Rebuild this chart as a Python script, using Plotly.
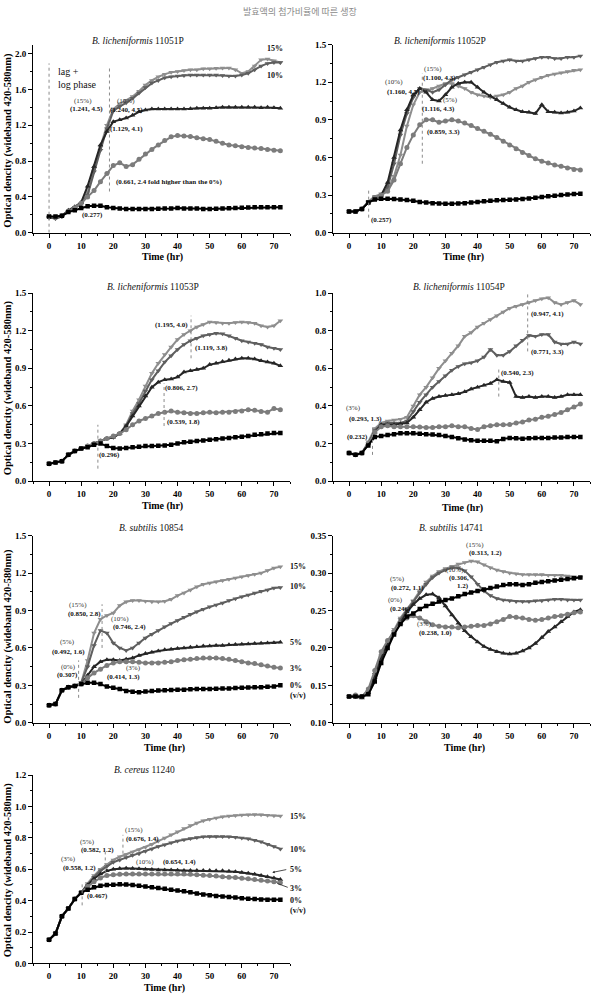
import plotly.graph_objects as go

W, H = 598, 1004
SERIF = "Liberation Serif"

# ---------------- data (time in hr, OD values) ----------------
TIME = list(range(0, 73, 2))
LEVELS = ["15%", "10%", "5%", "3%", "0%"]

# B. licheniformis 11051P
P1_0 = [0.18, 0.18, 0.19, 0.23, 0.25, 0.277, 0.295, 0.30, 0.30, 0.285, 0.275, 0.27, 0.265, 0.265, 0.265, 0.265, 0.265, 0.268, 0.27,
        0.27, 0.275, 0.27, 0.27, 0.27, 0.265, 0.265, 0.268, 0.27, 0.272, 0.275, 0.28, 0.282, 0.285, 0.285, 0.285, 0.285, 0.285]
P1_3 = [0.18, 0.17, 0.19, 0.24, 0.28, 0.33, 0.40, 0.47, 0.57, 0.66, 0.75, 0.78, 0.74, 0.76, 0.82, 0.88, 0.93, 0.98, 1.03,
        1.07, 1.085, 1.08, 1.075, 1.06, 1.05, 1.04, 1.02, 1.0, 0.98, 0.97, 0.96, 0.95, 0.945, 0.94, 0.93, 0.92, 0.915]
P1_5 = [0.18, 0.17, 0.19, 0.25, 0.29, 0.34, 0.52, 0.74, 0.98, 1.13, 1.24, 1.26, 1.28, 1.31, 1.35, 1.37, 1.38, 1.38, 1.38,
        1.38, 1.38, 1.38, 1.385, 1.39, 1.39, 1.39, 1.395, 1.4, 1.4, 1.4, 1.4, 1.4, 1.4, 1.395, 1.4, 1.395, 1.39]
P1_10 = [0.17, 0.16, 0.18, 0.24, 0.28, 0.32, 0.42, 0.68, 0.92, 1.16, 1.36, 1.41, 1.45, 1.5, 1.56, 1.62, 1.67, 1.7, 1.73,
         1.74, 1.75, 1.755, 1.76, 1.76, 1.76, 1.76, 1.76, 1.755, 1.75, 1.75, 1.76, 1.78, 1.82, 1.86, 1.89, 1.9, 1.9]
P1_15 = [0.17, 0.16, 0.18, 0.24, 0.28, 0.32, 0.45, 0.72, 0.96, 1.2, 1.38, 1.44, 1.48, 1.52, 1.58, 1.65, 1.7, 1.74, 1.77,
         1.79, 1.8, 1.81, 1.82, 1.82, 1.83, 1.83, 1.835, 1.84, 1.84, 1.82, 1.78, 1.8, 1.86, 1.93, 1.94, 1.92, 1.9]

# B. licheniformis 11052P
P2_0 = [0.17, 0.17, 0.19, 0.24, 0.265, 0.27, 0.27, 0.268, 0.265, 0.26, 0.255, 0.245, 0.24, 0.235, 0.232, 0.23, 0.23, 0.232, 0.235,
        0.24, 0.245, 0.25, 0.255, 0.258, 0.26, 0.262, 0.265, 0.268, 0.272, 0.278, 0.284, 0.29, 0.295, 0.3, 0.305, 0.308, 0.31]
P2_3 = [0.17, 0.17, 0.19, 0.24, 0.28, 0.30, 0.33, 0.42, 0.55, 0.68, 0.78, 0.86, 0.9, 0.9, 0.88, 0.89, 0.9, 0.89, 0.875,
        0.855, 0.83, 0.81, 0.785, 0.76, 0.73, 0.70, 0.67, 0.64, 0.615, 0.59, 0.57, 0.555, 0.54, 0.53, 0.515, 0.505, 0.5]
P2_5 = [0.17, 0.17, 0.19, 0.24, 0.27, 0.3, 0.4, 0.6, 0.82, 0.98, 1.1, 1.15, 1.12, 1.06, 1.05, 1.1, 1.16, 1.19, 1.2,
        1.2, 1.16, 1.12, 1.09, 1.06, 1.03, 1.0, 0.98, 0.965, 0.96, 0.95, 1.02, 0.965, 0.96, 0.955, 0.96, 0.97, 0.995]
P2_10 = [0.17, 0.17, 0.19, 0.24, 0.28, 0.3, 0.36, 0.55, 0.78, 0.95, 1.08, 1.15, 1.14, 1.12, 1.14, 1.18, 1.22, 1.24, 1.26,
         1.28, 1.3, 1.32, 1.34, 1.36, 1.37, 1.38, 1.37, 1.37, 1.38, 1.39, 1.4, 1.4, 1.39, 1.39, 1.4, 1.4, 1.41]
P2_15 = [0.17, 0.17, 0.19, 0.25, 0.29, 0.31, 0.34, 0.45, 0.62, 0.85, 1.02, 1.12, 1.13, 1.15, 1.17, 1.19, 1.19, 1.17, 1.15,
         1.12, 1.1, 1.09, 1.08, 1.09, 1.1, 1.12, 1.15, 1.17, 1.2, 1.22, 1.24, 1.255, 1.265, 1.275, 1.285, 1.295, 1.3]

# B. licheniformis 11053P
P3_0 = [0.14, 0.15, 0.16, 0.21, 0.24, 0.26, 0.27, 0.29, 0.3, 0.28, 0.265, 0.26, 0.265, 0.27, 0.275, 0.28, 0.28, 0.283, 0.285,
        0.29, 0.3, 0.31, 0.315, 0.32, 0.325, 0.33, 0.335, 0.34, 0.345, 0.35, 0.355, 0.36, 0.37, 0.375, 0.38, 0.385, 0.385]
P3_3 = [0.14, 0.15, 0.16, 0.21, 0.24, 0.26, 0.28, 0.3, 0.32, 0.34, 0.36, 0.38, 0.41, 0.45, 0.48, 0.5, 0.52, 0.54, 0.55,
        0.56, 0.55, 0.545, 0.54, 0.54, 0.545, 0.55, 0.545, 0.55, 0.55, 0.555, 0.56, 0.57, 0.565, 0.555, 0.55, 0.58, 0.57]
P3_5 = [0.14, 0.15, 0.16, 0.21, 0.24, 0.26, 0.28, 0.3, 0.32, 0.34, 0.35, 0.38, 0.44, 0.52, 0.6, 0.68, 0.75, 0.79, 0.81,
        0.815, 0.83, 0.87, 0.88, 0.89, 0.9, 0.93, 0.94, 0.955, 0.965, 0.975, 0.98, 0.98, 0.975, 0.96, 0.95, 0.94, 0.92]
P3_10 = [0.14, 0.15, 0.16, 0.21, 0.24, 0.26, 0.28, 0.3, 0.32, 0.34, 0.35, 0.38, 0.44, 0.54, 0.62, 0.72, 0.81, 0.88, 0.95,
         1.0, 1.05, 1.09, 1.12, 1.14, 1.16, 1.17, 1.18, 1.175, 1.16, 1.14, 1.12, 1.11, 1.1, 1.09, 1.07, 1.06, 1.05]
P3_15 = [0.14, 0.15, 0.16, 0.21, 0.24, 0.26, 0.28, 0.3, 0.32, 0.34, 0.35, 0.38, 0.45, 0.56, 0.65, 0.76, 0.86, 0.94, 1.01,
         1.07, 1.13, 1.17, 1.2, 1.23, 1.25, 1.27, 1.265, 1.26, 1.26, 1.265, 1.27, 1.265, 1.26, 1.24, 1.23, 1.24, 1.28]

# B. licheniformis 11054P
P4_0 = [0.15, 0.14, 0.15, 0.19, 0.235, 0.24, 0.245, 0.25, 0.255, 0.255, 0.255, 0.252, 0.25, 0.248, 0.245, 0.24, 0.235, 0.228, 0.222,
        0.218, 0.215, 0.215, 0.215, 0.213, 0.225, 0.23, 0.228, 0.226, 0.228, 0.23, 0.23, 0.23, 0.232, 0.232, 0.235, 0.235, 0.235]
P4_3 = [0.15, 0.14, 0.15, 0.2, 0.26, 0.29, 0.295, 0.29, 0.29, 0.29, 0.29, 0.288, 0.285, 0.285, 0.29, 0.29, 0.295, 0.29, 0.29,
        0.28, 0.275, 0.29, 0.295, 0.3, 0.3, 0.302, 0.31, 0.315, 0.325, 0.33, 0.34, 0.345, 0.355, 0.365, 0.38, 0.395, 0.41]
P4_5 = [0.15, 0.14, 0.15, 0.2, 0.26, 0.3, 0.3, 0.3, 0.305, 0.31, 0.34, 0.38, 0.42, 0.44, 0.45, 0.455, 0.46, 0.465, 0.475,
        0.49, 0.5, 0.51, 0.52, 0.54, 0.53, 0.525, 0.45, 0.445, 0.45, 0.445, 0.45, 0.45, 0.445, 0.45, 0.46, 0.46, 0.46]
P4_10 = [0.15, 0.14, 0.15, 0.2, 0.27, 0.3, 0.31, 0.31, 0.31, 0.32, 0.37, 0.42, 0.46, 0.5, 0.53, 0.56, 0.59, 0.61, 0.625,
         0.63, 0.64, 0.66, 0.7, 0.67, 0.67, 0.69, 0.72, 0.75, 0.775, 0.77, 0.78, 0.78, 0.74, 0.73, 0.73, 0.74, 0.73]
P4_15 = [0.15, 0.14, 0.15, 0.21, 0.28, 0.31, 0.32, 0.325, 0.33, 0.34, 0.4, 0.46, 0.5, 0.55, 0.6, 0.64, 0.68, 0.72, 0.77,
         0.79, 0.82, 0.84, 0.86, 0.88, 0.9, 0.92, 0.93, 0.94, 0.95, 0.96, 0.97, 0.975, 0.95, 0.94, 0.95, 0.96, 0.94]

# B. subtilis 10854
P5_0 = [0.14, 0.15, 0.26, 0.285, 0.295, 0.31, 0.32, 0.32, 0.31, 0.29, 0.28, 0.27, 0.255, 0.248, 0.245, 0.25, 0.255, 0.258, 0.26,
        0.262, 0.265, 0.265, 0.268, 0.27, 0.27, 0.27, 0.272, 0.275, 0.275, 0.278, 0.28, 0.282, 0.285, 0.285, 0.288, 0.29, 0.3]
P5_3 = [0.14, 0.15, 0.26, 0.285, 0.295, 0.31, 0.36, 0.4, 0.43, 0.46, 0.48, 0.49, 0.49, 0.49, 0.485, 0.48, 0.48, 0.48, 0.485,
        0.49, 0.5, 0.505, 0.51, 0.515, 0.52, 0.52, 0.52, 0.515, 0.51, 0.5, 0.49, 0.48, 0.475, 0.465, 0.455, 0.445, 0.44]
P5_5 = [0.14, 0.15, 0.26, 0.285, 0.295, 0.31, 0.38, 0.45, 0.49, 0.505, 0.505, 0.5, 0.51, 0.52, 0.54, 0.555, 0.565, 0.575, 0.585,
        0.59, 0.595, 0.6, 0.605, 0.61, 0.615, 0.615, 0.62, 0.62, 0.625, 0.628, 0.63, 0.632, 0.635, 0.638, 0.64, 0.642, 0.645]
P5_10 = [0.14, 0.15, 0.26, 0.285, 0.295, 0.32, 0.45, 0.62, 0.74, 0.72, 0.64, 0.6, 0.58, 0.6, 0.64, 0.68, 0.71, 0.74, 0.77,
         0.795, 0.82, 0.845, 0.87, 0.89, 0.91, 0.93, 0.945, 0.96, 0.98, 0.995, 1.01, 1.025, 1.04, 1.055, 1.065, 1.08, 1.085]
P5_15 = [0.14, 0.15, 0.26, 0.285, 0.295, 0.32, 0.5, 0.72, 0.83, 0.86, 0.88, 0.94, 0.97, 0.98, 0.98, 0.975, 0.97, 0.97, 0.975,
         0.99, 1.02, 1.04, 1.065, 1.09, 1.11, 1.12, 1.13, 1.14, 1.15, 1.16, 1.17, 1.18, 1.19, 1.2, 1.22, 1.24, 1.25]

# B. subtilis 14741
P6_0 = [0.135, 0.135, 0.135, 0.138, 0.155, 0.18, 0.2, 0.218, 0.232, 0.242, 0.246, 0.252, 0.256, 0.259, 0.262, 0.264, 0.266, 0.269, 0.272,
        0.274, 0.276, 0.278, 0.28, 0.282, 0.284, 0.285, 0.285, 0.284, 0.285, 0.287, 0.288, 0.289, 0.29, 0.291, 0.292, 0.293, 0.294]
P6_3 = [0.135, 0.137, 0.135, 0.145, 0.17, 0.195, 0.21, 0.222, 0.233, 0.24, 0.243, 0.24, 0.235, 0.231, 0.229, 0.228, 0.228, 0.227, 0.228,
        0.229, 0.23, 0.23, 0.232, 0.235, 0.238, 0.242, 0.241, 0.24, 0.238, 0.237, 0.238, 0.24, 0.242, 0.243, 0.245, 0.247, 0.248]
P6_5 = [0.135, 0.135, 0.133, 0.14, 0.16, 0.185, 0.205, 0.22, 0.233, 0.248, 0.258, 0.266, 0.271, 0.272, 0.267, 0.256, 0.244, 0.233, 0.223,
        0.215, 0.208, 0.202, 0.198, 0.195, 0.193, 0.192, 0.193, 0.196, 0.2, 0.206, 0.214, 0.222, 0.228, 0.235, 0.242, 0.248, 0.251]
P6_10 = [0.135, 0.135, 0.135, 0.142, 0.165, 0.188, 0.205, 0.222, 0.238, 0.25, 0.262, 0.274, 0.285, 0.294, 0.3, 0.304, 0.307, 0.307, 0.303,
         0.295, 0.285, 0.276, 0.27, 0.266, 0.264, 0.263, 0.262, 0.262, 0.262, 0.263, 0.263, 0.264, 0.265, 0.265, 0.264, 0.264, 0.264]
P6_15 = [0.135, 0.136, 0.135, 0.142, 0.165, 0.19, 0.208, 0.225, 0.24, 0.252, 0.263, 0.276, 0.288, 0.296, 0.302, 0.306, 0.309, 0.312, 0.314,
         0.316, 0.315, 0.311, 0.307, 0.304, 0.302, 0.3, 0.299, 0.298, 0.298, 0.298, 0.298, 0.297, 0.297, 0.297, 0.296, 0.295, 0.294]

# B. cereus 11240
P7_0 = [0.15, 0.19, 0.3, 0.35, 0.41, 0.45, 0.47, 0.485, 0.495, 0.5, 0.502, 0.505, 0.503, 0.5, 0.495, 0.49, 0.485, 0.48, 0.476,
        0.47, 0.465, 0.46, 0.453, 0.445, 0.44, 0.435, 0.43, 0.427, 0.424, 0.42, 0.415, 0.412, 0.41, 0.408, 0.406, 0.405, 0.405]
P7_3 = [0.15, 0.19, 0.3, 0.35, 0.41, 0.45, 0.49, 0.52, 0.545, 0.56, 0.565, 0.568, 0.57, 0.57, 0.57, 0.57, 0.57, 0.57, 0.57,
        0.57, 0.57, 0.57, 0.568, 0.566, 0.562, 0.56, 0.557, 0.553, 0.55, 0.547, 0.543, 0.54, 0.535, 0.53, 0.525, 0.52, 0.515]
P7_5 = [0.15, 0.19, 0.3, 0.35, 0.41, 0.45, 0.5, 0.54, 0.57, 0.59, 0.6, 0.605, 0.607, 0.605, 0.603, 0.6, 0.598, 0.596, 0.595,
        0.595, 0.594, 0.593, 0.592, 0.592, 0.592, 0.592, 0.591, 0.59, 0.588, 0.584, 0.58, 0.575, 0.568, 0.56, 0.552, 0.545, 0.535]
P7_10 = [0.15, 0.19, 0.3, 0.35, 0.41, 0.45, 0.5, 0.55, 0.59, 0.62, 0.645, 0.66, 0.675, 0.69, 0.7, 0.715, 0.73, 0.745, 0.757,
         0.77, 0.78, 0.788, 0.796, 0.803, 0.808, 0.81, 0.81, 0.81, 0.808, 0.804, 0.8, 0.795, 0.785, 0.775, 0.76, 0.745, 0.73]
P7_15 = [0.15, 0.19, 0.3, 0.35, 0.41, 0.45, 0.51, 0.56, 0.6, 0.63, 0.66, 0.68, 0.695, 0.71, 0.725, 0.74, 0.76, 0.78, 0.8,
         0.82, 0.84, 0.86, 0.88, 0.895, 0.91, 0.92, 0.928, 0.935, 0.94, 0.943, 0.946, 0.948, 0.95, 0.948, 0.945, 0.942, 0.94]

TITLES = ["<i>B. licheniformis</i> 11051P", "<i>B. licheniformis</i> 11052P",
          "<i>B. licheniformis</i> 11053P", "<i>B. licheniformis</i> 11054P",
          "<i>B. subtilis</i> 10854", "<i>B. subtilis</i> 14741", "<i>B. cereus</i> 11240"]

PANEL_SERIES = [
    [P1_15, P1_10, P1_5, P1_3, P1_0],
    [P2_15, P2_10, P2_5, P2_3, P2_0],
    [P3_15, P3_10, P3_5, P3_3, P3_0],
    [P4_15, P4_10, P4_5, P4_3, P4_0],
    [P5_15, P5_10, P5_5, P5_3, P5_0],
    [P6_15, P6_10, P6_5, P6_3, P6_0],
    [P7_15, P7_10, P7_5, P7_3, P7_0],
]

# ---------------- styling / layout ----------------
STYLE = {
    "15%": dict(color="#8e8e8e", symbol="triangle-down", size=5),
    "10%": dict(color="#5f5f5f", symbol="triangle-down", size=5),
    "5%": dict(color="#262626", symbol="triangle-up", size=5),
    "3%": dict(color="#7c7c7c", symbol="circle", size=5),
    "0%": dict(color="#000000", symbol="square", size=4.5),
}

def fx(px):
    return px / W

def fy(py):
    return 1 - py / H

LEFT = [fx(33), fx(290)]
RIGHT = [fx(333), fx(590)]
ROWS = [[fy(230), fy(40)], [fy(481), fy(291)], [fy(725), fy(536)], [fy(968), fy(778)]]
DOMAINS = [(LEFT, ROWS[0]), (RIGHT, ROWS[0]), (LEFT, ROWS[1]), (RIGHT, ROWS[1]),
           (LEFT, ROWS[2]), (RIGHT, ROWS[2]), (LEFT, ROWS[3])]
YRANGES = [[0, 2.1], [0, 1.5], [0, 1.5], [0, 1.0], [0, 1.5], [0.10, 0.35], [0, 1.2]]
YDTICK = [0.4, 0.3, 0.3, 0.2, 0.3, 0.05, 0.2]
YFMT = [".1f", ".1f", ".1f", ".1f", ".1f", ".2f", ".1f"]
TITLE_POS = [(138, 36), (440, 36), (153, 285), (459, 285), (151, 528), (451, 528), (144, 773)]
XTITLE_POS = [(162, 255), (463, 255), (162, 506), (462, 508), (164, 750), (464, 750), (164, 993)]
YTITLE_Y = [137, 387, 638, 874]

fig = go.Figure()
annotations = []
shapes = []

def axname(i):
    return ("x" if i == 1 else f"x{i}"), ("y" if i == 1 else f"y{i}")

for i, series in enumerate(PANEL_SERIES, start=1):
    xn, yn = axname(i)
    for lvl, vals in zip(LEVELS, series):
        st = STYLE[lvl]
        fig.add_trace(go.Scatter(
            x=TIME, y=vals, mode="lines+markers", xaxis=xn, yaxis=yn,
            line=dict(color=st["color"], width=2),
            marker=dict(symbol=st["symbol"], size=st["size"], color=st["color"],
                        line=dict(width=0)),
            showlegend=False, hoverinfo="skip"))
    xd, yd = DOMAINS[i - 1]
    tickfont = dict(family=SERIF, size=9, color="black", weight="bold")
    xa = dict(domain=xd, range=[-5, 75], anchor=yn, tickmode="linear", tick0=0, dtick=10,
              ticks="outside", ticklen=4, tickwidth=1, tickcolor="black",
              showline=True, linecolor="black", linewidth=1, showgrid=False, zeroline=False,
              tickfont=tickfont,
              minor=dict(ticks="outside", ticklen=2, tick0=0, dtick=5, tickcolor="black", showgrid=False))
    ya = dict(domain=yd, range=YRANGES[i - 1], anchor=xn, tickmode="linear",
              tick0=YRANGES[i - 1][0], dtick=YDTICK[i - 1], tickformat=YFMT[i - 1],
              ticks="outside", ticklen=4, tickwidth=1, tickcolor="black",
              showline=True, linecolor="black", linewidth=1, showgrid=False, zeroline=False,
              tickfont=tickfont,
              minor=dict(ticks="outside", ticklen=2, tick0=YRANGES[i - 1][0], dtick=YDTICK[i - 1] / 2,
                         tickcolor="black", showgrid=False))
    fig.update_layout(**{("xaxis" if i == 1 else f"xaxis{i}"): xa,
                         ("yaxis" if i == 1 else f"yaxis{i}"): ya})
    tx, ty = TITLE_POS[i - 1]
    annotations.append(dict(x=fx(tx), y=fy(ty), xref="paper", yref="paper", text=TITLES[i - 1],
                            showarrow=False, font=dict(family=SERIF, size=9.5, color="#111"),
                            xanchor="center", yanchor="middle"))
    xx, xy = XTITLE_POS[i - 1]
    annotations.append(dict(x=fx(xx), y=fy(xy), xref="paper", yref="paper", text="Time (hr)",
                            showarrow=False, font=dict(family=SERIF, size=10, color="black", weight="bold"),
                            xanchor="center", yanchor="middle"))

for yc in YTITLE_Y:
    annotations.append(dict(x=fx(8), y=fy(yc), xref="paper", yref="paper",
                            text="Optical dencity (wideband 420-580nm)", textangle=-90,
                            showarrow=False, font=dict(family=SERIF, size=10.5, color="black", weight="bold"),
                            xanchor="center", yanchor="middle"))

def note(i, t, v, text, bold=True, size=7, anchor="center", color="#111"):
    xn, yn = axname(i)
    annotations.append(dict(x=t, y=v, xref=xn, yref=yn, text=text, showarrow=False,
                            font=dict(family=SERIF, size=size, color=color,
                                      weight="bold" if bold else "normal"),
                            xanchor=anchor, yanchor="middle", borderpad=0))

def pct(i, t, v, text):
    note(i, t, v, text, bold=False, color="#333")

def vline(i, t, v0, v1):
    xn, yn = axname(i)
    shapes.append(dict(type="line", xref=xn, yref=yn, x0=t, x1=t, y0=v0, y1=v1,
                       line=dict(color="#8a8a8a", width=1, dash="dot")))

def side(i, v, text, t=75.2):
    note(i, t, v, text, size=8, anchor="left")

# panel 1
note(1, 2.5, 1.80, "lag +", bold=False, size=10, anchor="left")
note(1, 2.5, 1.66, "log phase", bold=False, size=10, anchor="left")
pct(1, 10.7, 1.475, "(15%)")
note(1, 11.5, 1.38, "(1.241, 4.5)")
pct(1, 23.8, 1.465, "(10%)")
note(1, 24.2, 1.37, "(1.240, 4.5)")
note(1, 24.0, 1.155, "(1.129, 4.1)")
note(1, 37.5, 0.565, "(0.661, 2.4 fold higher than the 0%)")
note(1, 13.4, 0.20, "(0.277)")
note(1, 70.2, 2.06, "15%", size=8)
note(1, 70.2, 1.75, "10%", size=8)
side(1, 1.40, "5%")
side(1, 0.92, "3%")
side(1, 0.31, "0%")
side(1, 0.155, "(v/v)")
vline(1, 0, 0, 1.89)
vline(1, 18.8, 0.46, 1.84)

# panel 2
pct(2, 14.0, 1.20, "(10%)")
note(2, 17.0, 1.12, "(1.160, 4.5)")
pct(2, 26.0, 1.305, "(15%)")
note(2, 28.0, 1.23, "(1.100, 4.3)")
pct(2, 31.6, 1.06, "(5%)")
note(2, 27.8, 0.985, "(1.116, 4.3)")
note(2, 29.5, 0.805, "(0.859, 3.3)")
note(2, 10.2, 0.10, "(0.257)")
vline(2, 22.8, 0.55, 1.27)
vline(2, 6.1, 0.12, 0.34)

# panel 3
note(3, 38.2, 1.247, "(1.195, 4.0)")
note(3, 50.6, 1.065, "(1.119, 3.8)")
note(3, 41.3, 0.742, "(0.806, 2.7)")
note(3, 41.7, 0.474, "(0.539, 1.8)")
note(3, 18.8, 0.213, "(0.296)")
vline(3, 44.2, 0.98, 1.32)
vline(3, 35.8, 0.44, 0.78)
vline(3, 15.2, 0.10, 0.45)

# panel 4
pct(4, 1.4, 0.39, "(3%)")
note(4, 5.0, 0.332, "(0.293, 1.3)")
note(4, 2.6, 0.237, "(0.232)")
note(4, 52.5, 0.574, "(0.540, 2.3)")
note(4, 61.8, 0.889, "(0.947, 4.1)")
note(4, 61.8, 0.689, "(0.771, 3.3)")
vline(4, 55.6, 0.69, 1.02)
vline(4, 46.6, 0.45, 0.60)
vline(4, 7.3, 0.14, 0.30)

# panel 5
pct(5, 9.0, 0.945, "(15%)")
note(5, 10.9, 0.875, "(0.850, 2.8)")
pct(5, 22.0, 0.835, "(10%)")
note(5, 25.1, 0.765, "(0.746, 2.4)")
pct(5, 5.8, 0.645, "(5%)")
note(5, 6.1, 0.571, "(0.492, 1.6)")
pct(5, 6.1, 0.45, "(0%)")
note(5, 5.8, 0.38, "(0.307)")
pct(5, 26.3, 0.44, "(3%)")
note(5, 23.2, 0.37, "(0.414, 1.3)")
side(5, 1.254, "15%", t=74.8)
side(5, 1.095, "10%", t=74.8)
side(5, 0.643, "5%", t=74.8)
side(5, 0.437, "3%", t=74.8)
side(5, 0.30, "0%", t=74.8)
side(5, 0.222, "(v/v)", t=74.8)
vline(5, 16.5, 0.60, 0.95)
vline(5, 9.2, 0.20, 0.50)

# panel 6
pct(6, 39.1, 0.3375, "(15%)")
note(6, 42.4, 0.3265, "(0.313, 1.2)")
pct(6, 33.0, 0.3045, "(10%)")
note(6, 34.1, 0.2935, "(0.306,")
note(6, 35.5, 0.2825, "1.2)")
pct(6, 15.0, 0.2915, "(5%)")
note(6, 18.1, 0.2805, "(0.272, 1.1)")
pct(6, 14.5, 0.2635, "(0%)")
note(6, 16.0, 0.2525, "(0.246)")
pct(6, 23.5, 0.2315, "(3%)")
note(6, 26.8, 0.2205, "(0.238, 1.0)")

# panel 7
pct(7, 26.3, 0.85, "(15%)")
note(7, 29.1, 0.796, "(0.676, 1.4)")
pct(7, 12.0, 0.776, "(5%)")
note(7, 15.1, 0.722, "(0.582, 1.2)")
pct(7, 6.2, 0.665, "(3%)")
note(7, 9.5, 0.606, "(0.558, 1.2)")
pct(7, 30.0, 0.644, "(10%)")
note(7, 40.5, 0.644, "(0.654, 1.4)")
note(7, 15.1, 0.43, "(0.467)")
side(7, 0.935, "15%", t=74.8)
side(7, 0.726, "10%", t=74.8)
side(7, 0.60, "5%", t=74.8)
side(7, 0.48, "3%", t=74.8)
side(7, 0.404, "0%", t=74.8)
side(7, 0.335, "(v/v)", t=74.8)
annotations.append(dict(x=69.5, y=0.58, xref="x7", yref="y7", ax=74.3, ay=0.60, axref="x7", ayref="y7",
                        text="", showarrow=True, arrowhead=2, arrowsize=0.6, arrowwidth=0.8,
                        arrowcolor="#222"))
shapes.append(dict(type="line", xref="x7", yref="y7", x0=71.0, x1=74.3, y0=0.51, y1=0.485,
                   line=dict(color="#222", width=0.8)))
vline(7, 10.3, 0.37, 0.51)
vline(7, 17.5, 0.58, 0.71)
vline(7, 23.0, 0.70, 0.82)

# running header
annotations.append(dict(x=fx(300), y=fy(7), xref="paper", yref="paper",
                        text="발효액의 첨가비율에 따른 생장", showarrow=False,
                        font=dict(family="Noto Sans CJK KR", size=9, color="#8a8a8a"),
                        xanchor="center", yanchor="middle"))

fig.update_layout(width=W, height=H, margin=dict(l=0, r=0, t=0, b=0),
                  paper_bgcolor="white", plot_bgcolor="white",
                  showlegend=False, annotations=annotations, shapes=shapes)

fig.write_html("out.html")
